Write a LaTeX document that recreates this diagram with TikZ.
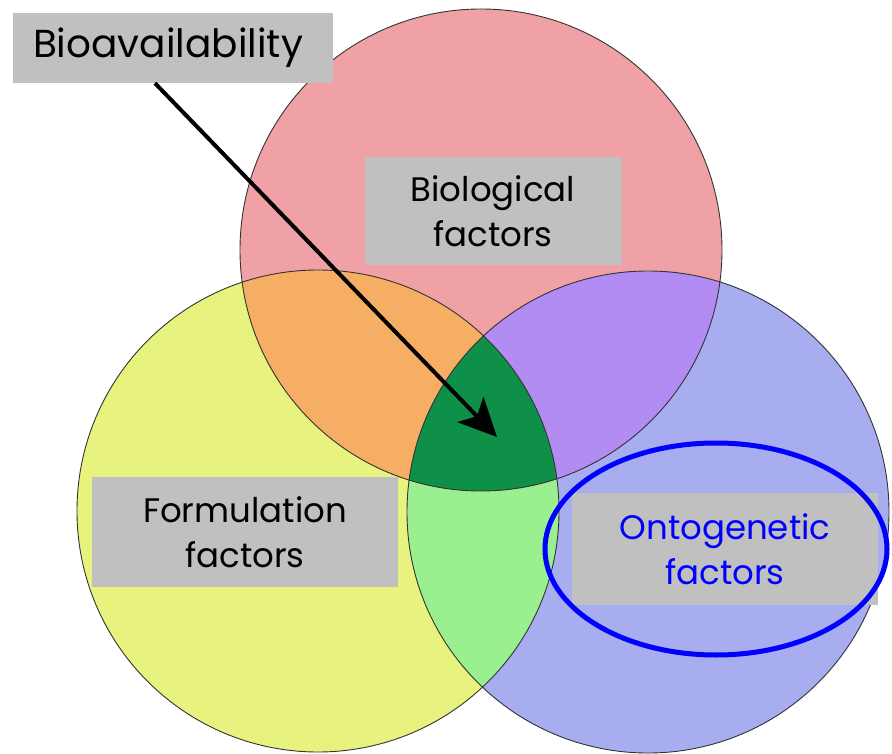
\documentclass[tikz,border=0pt]{standalone}
\usepackage{fontspec}
\setmainfont{Poppins}
\usetikzlibrary{arrows.meta}

\definecolor{pinkc}{HTML}{F0A1A6}
\definecolor{yellowc}{HTML}{E8F27E}
\definecolor{bluec}{HTML}{A8ADF0}
\definecolor{orangec}{HTML}{F5AE63}
\definecolor{purplec}{HTML}{B28CF2}
\definecolor{lgreenc}{HTML}{9AF08F}
\definecolor{dgreenc}{HTML}{0E9049}
\definecolor{boxgray}{HTML}{C0C0C0}

\begin{document}
\begin{tikzpicture}[x=1pt,y=-1pt,
    lab/.style={fill=boxgray, inner sep=0pt, align=center,
        font=\fontsize{34}{45}\selectfont},
    ring/.style={draw=black!80, line width=0.9pt}]
    \useasboundingbox (0,0) rectangle (892,754);
    \def\cB{(481,250) circle [radius=241]}
    \def\cF{(318,511) circle [radius=241]}
    \def\cO{(648,512) circle [radius=241]}

    % the three sets and their overlaps
    \fill[pinkc] \cB;
    \fill[yellowc] \cF;
    \fill[bluec] \cO;
    \begin{scope}
        \clip \cB;
        \fill[orangec] \cF;
        \fill[purplec] \cO;
    \end{scope}
    \begin{scope}
        \clip \cF;
        \fill[lgreenc] \cO;
        \clip \cO;
        \fill[dgreenc] \cB;
    \end{scope}
    \draw[ring] \cB \cF \cO;

    \node[lab, minimum width=320, minimum height=70,
        font=\fontsize{39}{45}\selectfont] (A) at (173,48) {\hspace*{-10pt}Bioavailability};
    \node[lab, minimum width=257, minimum height=108] (B) at (493,211) {Biological\\factors};
    \node[lab, minimum width=306, minimum height=110] (F) at (245,532) {Formulation\\factors};
    \node[lab, minimum width=306, minimum height=112, text=blue] (O) at (725,549) {Ontogenetic\\factors};
    \draw[blue, line width=5pt] (716,549) ellipse [x radius=171, y radius=106];

    \coordinate (core) at (497,437);
    \draw[line width=4pt, -{Stealth[length=38pt, width=36pt, inset=9pt]}]
        ([xshift=-18pt]A.south) -- (core);
\end{tikzpicture}
\end{document}
